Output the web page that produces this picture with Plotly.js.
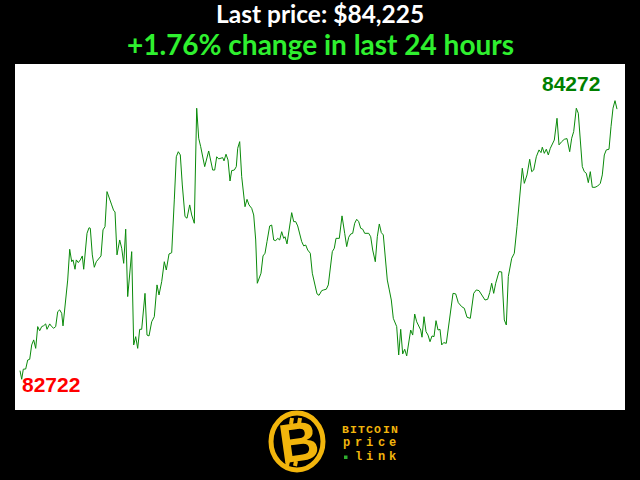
<!DOCTYPE html>
<html>
<head>
<meta charset="utf-8">
<script src="https://cdn.plot.ly/plotly-3.0.1.min.js"></script>
<style>html,body{margin:0;padding:0;background:#000;}#chart{width:640px;height:480px;}</style>
</head>
<body>
<div id="chart"></div>
<script>
// Time steps (arbitrary units across the last 24 hours)
const timeStep = [
0, 1.7, 3.3, 5.7, 7.7, 9.7, 11.7, 13.7, 15.7, 17.7,
19.7, 21.7, 23.7, 25.7, 27, 29.7, 31.7, 33.7, 35.7, 37.7,
39.7, 41.7, 43, 45, 47.7, 49.7, 51.7, 53, 55, 56.3,
58.3, 60.3, 62.3, 63.7, 65.7, 67, 69, 70.3, 72.3, 74.3,
76.3, 79, 81, 83, 85, 87, 89, 91.7, 93.7, 95,
97, 99.7, 101.7, 103.7, 105.7, 107.7, 111.7, 113.7, 115.7, 117.7,
119.7, 121.7, 125, 127, 129, 131.7, 134.3, 137, 139, 141.7,
144.3, 146.3, 149, 151.7, 154.3, 156.3, 158.3, 160.3, 162.3, 165,
167, 169.7, 171.7, 174.3, 176.7, 178.7, 180.7, 184.7, 188.7, 192.7,
194.7, 196.7, 198.7, 200.7, 202.7, 204, 206, 208, 210, 211.7,
214.3, 216.3, 217.7, 219.7, 221.7, 225, 227, 229, 231.7, 233.7,
235.7, 237.3, 239.7, 241, 243, 245, 247, 249.7, 251.7, 253.7,
255.7, 257.7, 259.7, 261.7, 263.7, 265, 267, 269, 271.7, 273.7,
275.7, 277.7, 279.7, 281.7, 283.7, 285.7, 287.7, 290.3, 292.3, 295,
297, 299, 301.7, 303.7, 306.3, 308.3, 310.3, 312.3, 314.3, 316,
319.3, 322, 324.7, 326.7, 328.7, 330.7, 332.7, 334.7, 336.7, 338.7,
340.7, 342.7, 344.7, 346.7, 348.7, 350.7, 352.7, 355.3, 357.3, 359.3,
361.3, 363.3, 365.3, 367.3, 369.3, 371.3, 373.3, 375.3, 376.7, 378.7,
380.7, 382.7, 384.7, 386.7, 388.7, 390.7, 392.7, 394.7, 396.7, 398.7,
400.7, 402, 404, 406, 408, 410, 412, 414, 416, 418,
420, 421.7, 423.7, 426.3, 429.7, 433, 435.7, 438.3, 441.7, 444.3,
447, 450.3, 453.7, 456.3, 459, 462.3, 465, 467.7, 469.7, 471.7,
473.7, 475.7, 479, 481.7, 484.3, 486.3, 488.3, 491.7, 494.3, 497,
499.7, 502.3, 504.3, 507, 509.7, 511.7, 513.7, 516.3, 519, 521,
522.3, 524.3, 526.3, 528.3, 530.3, 532.3, 534.3, 537, 539, 541.7,
544.3, 547, 549.7, 551.7, 553.7, 556.3, 558.3, 560.3, 562.3, 564.3,
566.3, 568.3, 570.3, 572.3, 575, 577.7, 580.3, 582.3, 584.3, 586.3,
589, 591, 593, 595, 597
];

// Bitcoin price (USD)
const price = [
82770, 82722, 82778, 82779, 82829, 82833, 82913, 82941, 82894, 83015,
82992, 83015, 83020, 83030, 83000, 83030, 83015, 83006, 83015, 83098,
83108, 83089, 83019, 83126, 83274, 83445, 83376, 83386, 83334, 83386,
83371, 83386, 83408, 83334, 83441, 83534, 83565, 83562, 83414, 83345,
83376, 83395, 83408, 83553, 83571, 83766, 83729, 83692, 83660, 83654,
83414, 83497, 83451, 83367, 83557, 83182, 83432, 82913, 82959, 82894,
83000, 83000, 83200, 82968, 82963, 83042, 83070, 83247, 83191, 83265,
83376, 83330, 83419, 83426, 83720, 83960, 83988, 83970, 83803, 83627,
83618, 83692, 83636, 83590, 84230, 84063, 84016, 83905, 83992, 83886,
83886, 83960, 83948, 83952, 83955, 83937, 83974, 83942, 83825, 83883,
83886, 83905, 84007, 84044, 83849, 83682, 83723, 83692, 83673, 83636,
83497, 83256, 83302, 83312, 83408, 83423, 83488, 83575, 83580, 83497,
83493, 83506, 83497, 83543, 83506, 83515, 83475, 83553, 83649, 83599,
83599, 83575, 83534, 83488, 83464, 83469, 83441, 83423, 83312, 83247,
83197, 83189, 83215, 83219, 83223, 83247, 83330, 83432, 83451, 83506,
83506, 83631, 83534, 83460, 83512, 83530, 83534, 83590, 83612, 83599,
83562, 83557, 83534, 83534, 83534, 83515, 83441, 83376, 83515, 83586,
83538, 83525, 83386, 83274, 83219, 83163, 83061, 83034, 83015, 82857,
83000, 82863, 82889, 82852, 82913, 82996, 82968, 83085, 83042, 83019,
82996, 82956, 83070, 82987, 82968, 82931, 82963, 82959, 83048, 82996,
83000, 82913, 82926, 82922, 83052, 83200, 83197, 83148, 83126, 83117,
83067, 83061, 83200, 83219, 83215, 83182, 83163, 83167, 83204, 83256,
83200, 83256, 83321, 83319, 83052, 83024, 83293, 83395, 83423, 83571,
83757, 83896, 83812, 83859, 83946, 83877, 83886, 83960, 83998, 83983,
84013, 83979, 84002, 83970, 84007, 84035, 84053, 84174, 84026, 84044,
84057, 84061, 83988, 84063, 84100, 84230, 84202, 84053, 83905, 83877,
83868, 83816, 83877, 83790, 83790, 83797, 83812, 83859, 83970, 83998,
84002, 84127, 84230, 84272, 84225
];

const titleLine1 = "Last price: $84,225";
const titleLine2 = "+1.76% change in last 24 hours";
const logoWords = ["BITCOIN", "price", "link"];

const minPrice = Math.min(...price);
const maxPrice = Math.max(...price);
const minIdx = price.indexOf(minPrice);
const maxIdx = price.indexOf(maxPrice);

const gold = "#f2b50c";

// pixel -> paper helpers for the decorative logo (plot area spans 15..625 x, 64..410 y)
const px = v => (v - 15) / 610;
const py = v => (410 - v) / 346;

const trace = {
  x: timeStep, y: price, type: "scatter", mode: "lines",
  line: {color: "#0a8a0a", width: 1}, hoverinfo: "skip"
};

function bar(x0, y0, x1, y1) {
  return {type: "line", xref: "paper", yref: "paper", x0: px(x0), y0: py(y0), x1: px(x1), y1: py(y1),
          line: {color: gold, width: 4}};
}

function spacedWord(word, firstCenter, pitch, centerY, size) {
  return word.split("").map((ch, i) => ({
    xref: "paper", yref: "paper", x: px(firstCenter + i * pitch), y: py(centerY),
    xanchor: "center", yanchor: "middle", text: ch, showarrow: false,
    font: {family: "'Liberation Mono', 'Courier New', monospace", size: size, color: gold, weight: "bold"}
  }));
}

const layout = {
  width: 640, height: 480,
  paper_bgcolor: "#000000", plot_bgcolor: "#ffffff",
  margin: {l: 15, r: 15, t: 64, b: 70, pad: 0},
  showlegend: false,
  xaxis: {range: [-5, 605], visible: false, showgrid: false, zeroline: false, fixedrange: true},
  yaxis: {range: [82551, 84476], visible: false, showgrid: false, zeroline: false, fixedrange: true},
  shapes: [
    {type: "circle", xref: "paper", yref: "paper",
     x0: px(271), x1: px(323), y0: py(470), y1: py(413),
     line: {color: gold, width: 5}, fillcolor: "#000000"},
    bar(292, 418, 291, 424),
    bar(300, 418, 299, 424),
    bar(288, 461, 287, 466),
    bar(296, 461, 295, 466),
    {type: "rect", xref: "paper", yref: "paper", x0: px(344), x1: px(347.5), y0: py(459), y1: py(455.5),
     line: {width: 0}, fillcolor: "#2fae2f"}
  ],
  annotations: [
    {xref: "paper", yref: "paper", x: 0.5, y: py(13.2), xanchor: "center", yanchor: "middle",
     text: titleLine1, showarrow: false, borderpad: 0,
     font: {family: "Lato, 'Liberation Sans', sans-serif", size: 24.5, color: "#ffffff", weight: "bold"}},
    {xref: "paper", yref: "paper", x: 0.5, y: py(43.6), xanchor: "center", yanchor: "middle",
     text: titleLine2, showarrow: false, borderpad: 0,
     font: {family: "Lato, 'Liberation Sans', sans-serif", size: 28, color: "#2ff02f", weight: "bold"}},
    {x: timeStep[minIdx], y: minPrice, xref: "x", yref: "y", xanchor: "left", yanchor: "middle",
     xshift: -2, yshift: -5, text: String(minPrice), showarrow: false,
     font: {family: "'Liberation Sans', Arial, sans-serif", size: 21, color: "#ff0000", weight: "bold"}},
    {x: timeStep[maxIdx], y: maxPrice, xref: "x", yref: "y", xanchor: "right", yanchor: "middle",
     xshift: -13, yshift: 17, text: String(maxPrice), showarrow: false,
     font: {family: "'Liberation Sans', Arial, sans-serif", size: 21, color: "#008000", weight: "bold"}},
    {xref: "paper", yref: "paper", x: px(299), y: py(442), xanchor: "center", yanchor: "middle",
     text: "B", showarrow: false, textangle: -8,
     font: {family: "'Liberation Sans', Arial, sans-serif", size: 55, color: gold, weight: "bold"}}
  ]
    .concat(spacedWord(logoWords[0], 345, 8.2, 429.3, 11.5))
    .concat(spacedWord(logoWords[1], 346.5, 11.5, 443, 12))
    .concat(spacedWord(logoWords[2], 358.5, 11.4, 457, 12))
};

Plotly.newPlot("chart", [trace], layout, {staticPlot: true, displayModeBar: false});
</script>
</body>
</html>
